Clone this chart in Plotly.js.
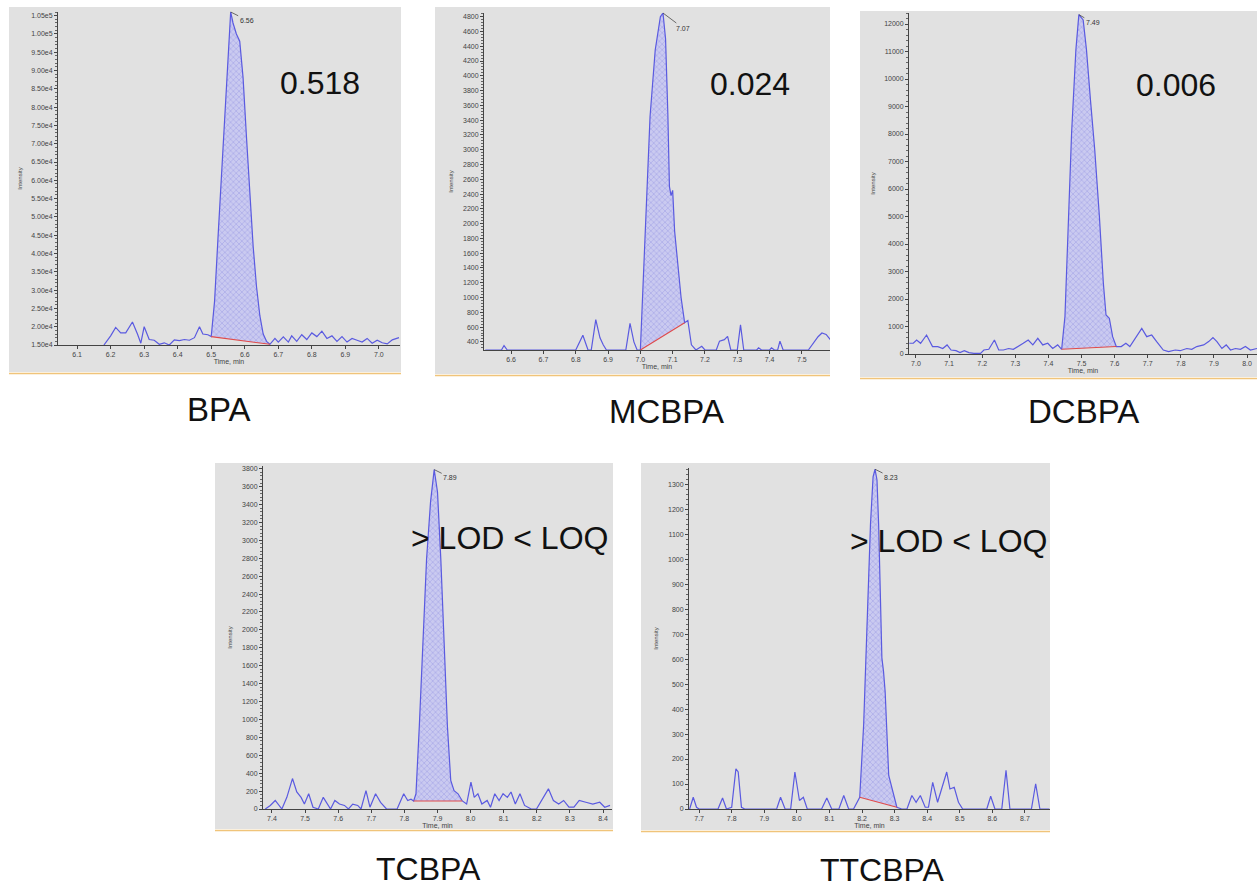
<!DOCTYPE html>
<html><head><meta charset="utf-8">
<script src="https://cdn.plot.ly/plotly-3.0.1.min.js"></script>
<style>html,body{margin:0;padding:0;background:#fff}#chart{width:1258px;height:891px}</style>
</head><body><div id="chart"></div>
<script>
// ---------------- DATA ----------------
const compounds = ['BPA', 'MCBPA', 'DCBPA', 'TCBPA', 'TTCBPA'];
const results = ['0.518', '0.024', '0.006', '> LOD < LOQ', '> LOD < LOQ'];
const retentionLabels = ['6.56', '7.07', '7.49', '7.89', '8.23'];

const bpaTime = [6.18, 6.20, 6.215, 6.23, 6.245, 6.265, 6.28, 6.29, 6.30, 6.315,
 6.33, 6.345, 6.36, 6.375, 6.39, 6.405, 6.42, 6.435, 6.45, 6.465,
 6.475, 6.49, 6.50, 6.51, 6.52, 6.53, 6.54, 6.55, 6.558, 6.565,
 6.575, 6.585, 6.595, 6.605, 6.615, 6.625, 6.635, 6.645, 6.655, 6.665,
 6.675, 6.69, 6.70, 6.715, 6.73, 6.74, 6.755, 6.77, 6.785, 6.80,
 6.815, 6.83, 6.845, 6.86, 6.875, 6.89, 6.905, 6.92, 6.935, 6.95,
 6.965, 6.98, 6.995, 7.01, 7.025, 7.04, 7.06];
const bpaIntensity = [15000, 17500, 19800, 18300, 18300, 21300, 18000, 15500, 20000, 16500,
 16300, 15200, 15600, 15000, 16400, 16200, 16500, 16300, 17000, 20000,
 18000, 17800, 17300, 27000, 44000, 60000, 76000, 95000, 106000, 103000,
 100000, 98000, 88000, 72000, 56000, 42000, 31000, 23000, 18000, 16000,
 15200, 16800, 15800, 17200, 15800, 17500, 16000, 17800, 16500, 18300,
 17300, 18800, 16800, 17500, 16000, 17300, 15800, 16800, 16300, 15800,
 16800, 15500, 16300, 15600, 15300, 16400, 17000];

const mcTime = [6.52, 6.57, 6.578, 6.588, 6.80, 6.822, 6.838, 6.848, 6.862, 6.875,
 6.885, 6.895, 6.955, 6.968, 6.98, 6.99, 7.00, 7.014, 7.03, 7.046,
 7.062, 7.07, 7.078, 7.085, 7.09, 7.095, 7.10, 7.106, 7.116, 7.126,
 7.137, 7.147, 7.158, 7.172, 7.19, 7.20, 7.235, 7.245, 7.26, 7.27,
 7.28, 7.30, 7.31, 7.32, 7.36, 7.366, 7.375, 7.40, 7.406, 7.415,
 7.425, 7.432, 7.442, 7.52, 7.55, 7.562, 7.575, 7.588];
const mcIntensity = [290, 290, 350, 290, 290, 490, 290, 290, 700, 455,
 360, 290, 290, 650, 400, 290, 290, 1885, 3450, 4350,
 4800, 4850, 4500, 3500, 2500, 2380, 2450, 1900, 1450, 1000,
 660, 690, 360, 290, 340, 290, 290, 410, 430, 475,
 290, 290, 630, 290, 290, 320, 290, 290, 320, 290,
 290, 410, 290, 290, 470, 520, 500, 430];

const dcTime = [6.98, 6.992, 7.002, 7.014, 7.032, 7.05, 7.066, 7.081, 7.094, 7.106,
 7.121, 7.133, 7.146, 7.16, 7.175, 7.195, 7.205, 7.22, 7.237, 7.25,
 7.264, 7.28, 7.294, 7.309, 7.324, 7.339, 7.353, 7.368, 7.383, 7.398,
 7.413, 7.428, 7.44, 7.45, 7.46, 7.47, 7.483, 7.492, 7.505, 7.515,
 7.527, 7.54, 7.554, 7.566, 7.574, 7.584, 7.594, 7.605, 7.62, 7.634,
 7.646, 7.665, 7.682, 7.697, 7.712, 7.727, 7.747, 7.763, 7.783, 7.798,
 7.818, 7.833, 7.848, 7.869, 7.884, 7.897, 7.909, 7.924, 7.937, 7.95,
 7.965, 7.98, 7.995, 8.01, 8.03];
const dcIntensity = [390, 390, 510, 390, 690, 270, 270, 200, 330, 145,
 120, 50, 120, 50, 25, 25, 145, 170, 510, 145,
 145, 200, 170, 270, 390, 510, 330, 570, 330, 390,
 200, 330, 170, 1360, 4390, 8030, 11060, 12340, 12150, 11060,
 9240, 7420, 5000, 2570, 1420, 1300, 630, 270, 270, 390,
 270, 630, 930, 630, 690, 450, 145, 85, 145, 120,
 200, 170, 270, 330, 450, 600, 450, 200, 330, 145,
 200, 170, 270, 145, 200];

const tcTime = [7.38, 7.395, 7.41, 7.43, 7.445, 7.462, 7.475, 7.488, 7.498, 7.511,
 7.524, 7.54, 7.555, 7.567, 7.577, 7.59, 7.604, 7.619, 7.631, 7.644,
 7.659, 7.669, 7.684, 7.696, 7.713, 7.728, 7.746, 7.778, 7.798, 7.81,
 7.82, 7.828, 7.835, 7.845, 7.855, 7.867, 7.879, 7.89, 7.9, 7.91,
 7.92, 7.93, 7.94, 7.95, 7.962, 7.975, 7.988, 8.001, 8.011, 8.022,
 8.034, 8.05, 8.06, 8.073, 8.086, 8.098, 8.111, 8.122, 8.135, 8.149,
 8.163, 8.183, 8.199, 8.214, 8.235, 8.25, 8.266, 8.281, 8.297, 8.312,
 8.328, 8.348, 8.369, 8.39, 8.405, 8.421];
const tcIntensity = [0, 40, 95, 0, 130, 340, 190, 130, 55, 170,
 20, 0, 130, 55, 0, 95, 55, 40, 0, 55,
 40, 0, 205, 20, 170, 75, 0, 0, 170, 95,
 110, 90, 170, 920, 1860, 2790, 3430, 3790, 3540, 2790,
 1860, 920, 320, 205, 170, 90, 55, 300, 130, 170,
 55, 95, 20, 170, 95, 170, 130, 190, 55, 170,
 40, 0, 0, 95, 225, 95, 55, 95, 20, 20,
 95, 75, 55, 75, 20, 40];

const ttTime = [7.671, 7.682, 7.692, 7.70, 7.758, 7.772, 7.784, 7.80, 7.813, 7.82,
 7.83, 7.84, 7.938, 7.95, 7.964, 7.981, 7.994, 8.008, 8.02, 8.032,
 8.076, 8.092, 8.107, 8.129, 8.144, 8.159, 8.174, 8.193, 8.205, 8.215,
 8.226, 8.234, 8.24, 8.246, 8.251, 8.256, 8.261, 8.266, 8.271, 8.282,
 8.292, 8.307, 8.322, 8.338, 8.353, 8.366, 8.379, 8.394, 8.404, 8.417,
 8.432, 8.445, 8.46, 8.47, 8.483, 8.496, 8.509, 8.583, 8.595, 8.608,
 8.629, 8.642, 8.654, 8.72, 8.733, 8.746, 8.775];
const ttIntensity = [0, 47, 7, 0, 0, 44, 0, 7, 161, 148,
 7, 0, 0, 47, 0, 0, 148, 34, 47, 0,
 0, 44, 0, 0, 54, 0, 0, 47, 336, 740,
 1140, 1330, 1360, 1317, 1140, 874, 605, 551, 470, 134,
 80, 7, 0, 0, 54, 27, 54, 7, 7, 107,
 27, 87, 148, 80, 87, 27, 0, 0, 51, 0,
 0, 155, 0, 0, 101, 0, 0];

// integration windows (start, end) in minutes
const integrationStart = [6.50, 7.00, 7.44, 7.828, 8.193];
const integrationEnd   = [6.675, 7.137, 7.605, 7.975, 8.307];

// axis ranges / ticks
const xRanges = [[6.043, 7.063], [6.516, 7.587], [6.979, 8.03], [7.373, 8.427], [7.669, 8.777]];
const yRanges = [[15000, 106000], [290, 4850], [0, 12400], [0, 3830], [0, 1365]];
const bpaTickVals = [15000, 20000, 25000, 30000, 35000, 40000, 45000, 50000, 55000, 60000, 65000, 70000, 75000, 80000, 85000, 90000, 95000, 100000, 105000];
const bpaTickText = ['1.50e4', '2.00e4', '2.50e4', '3.00e4', '3.50e4', '4.00e4', '4.50e4', '5.00e4', '5.50e4', '6.00e4', '6.50e4', '7.00e4', '7.50e4', '8.00e4', '8.50e4', '9.00e4', '9.50e4', '1.00e5', '1.05e5'];
const yDticks = [5000, 200, 1000, 200, 100];

// ---------------- LAYOUT GEOMETRY (pixels) ----------------
const W = 1258, H = 891;
const times = [bpaTime, mcTime, dcTime, tcTime, ttTime];
const intens = [bpaIntensity, mcIntensity, dcIntensity, tcIntensity, ttIntensity];
const plotBox = [ // left, right, top, bottom of axes area
  [58, 400, 12, 345], [484, 830, 13, 350], [909, 1257, 13, 354],
  [263, 612, 466, 809], [689, 1050, 468, 809]];
const greyBox = [
  [9, 401, 7, 372], [435, 830, 7, 374], [860, 1257, 11, 377],
  [215, 613, 463, 829], [641, 1050, 463, 830]];
const namePos = [[219, 409], [667, 411], [1083, 411], [428, 869], [882, 870]];
const nameSize = [33, 33, 33, 32, 32];
const resultPos = [[320, 83], [750, 84], [1176, 85], [509, 538], [948, 541]];
const peakLabelOffset = [[16, 8], [20, 15], [14, 8], [16, 8], [16, 8]];

const FONT = 'Liberation Sans, Arial, sans-serif';
const px = v => v / W;
const py = v => 1 - v / H;

const traces = [];
const layout = {
  width: W, height: H,
  margin: {l: 0, r: 0, t: 0, b: 0},
  paper_bgcolor: '#ffffff',
  plot_bgcolor: 'rgba(0,0,0,0)',
  showlegend: false,
  font: {family: FONT, color: '#333'},
  shapes: [], annotations: []
};

for (let i = 0; i < 5; i++) {
  const s = i === 0 ? '' : String(i + 1);
  const xa = 'x' + s, ya = 'y' + s;
  const t = times[i], v = intens[i];
  const i0 = t.indexOf(integrationStart[i]);
  const i1 = t.indexOf(integrationEnd[i]);

  // shaded integrated area (closed polygon: peak + straight baseline)
  traces.push({
    x: t.slice(i0, i1 + 1), y: v.slice(i0, i1 + 1),
    xaxis: xa, yaxis: ya, type: 'scatter', mode: 'lines',
    fill: 'toself', fillcolor: 'rgba(175,175,235,0.9)',
    fillpattern: {shape: 'x', size: 4, solidity: 0.2, fgcolor: '#9494e2', bgcolor: '#cacaf0'},
    line: {width: 0, color: 'rgba(0,0,0,0)'}, hoverinfo: 'skip'
  });
  // chromatogram
  traces.push({
    x: t, y: v, xaxis: xa, yaxis: ya, type: 'scatter', mode: 'lines',
    line: {color: '#5a5ae0', width: 1.2}, cliponaxis: true
  });
  // baseline
  traces.push({
    x: [t[i0], t[i1]], y: [v[i0], v[i1]], xaxis: xa, yaxis: ya,
    type: 'scatter', mode: 'lines', line: {color: '#e04a4a', width: 1.1}
  });

  const b = plotBox[i];
  layout['xaxis' + s] = {
    domain: [px(b[0]), px(b[1])], anchor: ya, range: xRanges[i],
    dtick: 0.1, tick0: 0, tickformat: '.1f', ticks: 'outside', ticklen: 3, tickwidth: 1,
    tickcolor: '#444', showline: true, linecolor: '#444', linewidth: 1,
    showgrid: false, zeroline: false, automargin: false,
    tickfont: {size: 7, color: '#444', family: FONT},
    title: {text: 'Time, min', font: {size: 7, color: '#444', family: FONT}, standoff: 1}
  };
  const yax = {
    domain: [py(b[3]), py(b[2])], anchor: xa, range: yRanges[i],
    ticks: 'outside', ticklen: 3, tickwidth: 1, tickcolor: '#444',
    showline: true, linecolor: '#444', linewidth: 1,
    showgrid: false, zeroline: false, automargin: false,
    tickfont: {size: 7, color: '#444', family: FONT},
    minor: {ticks: 'outside', ticklen: 2, tickcolor: '#666', dtick: yDticks[i] / 5},
    title: {text: 'Intensity', font: {size: 6, color: '#444', family: FONT}, standoff: 8}
  };
  if (i === 0) { yax.tickvals = bpaTickVals; yax.ticktext = bpaTickText; yax.tickmode = 'array'; yax.minor.dtick = 1000; }
  else { yax.dtick = yDticks[i]; yax.tick0 = 0; yax.tickformat = 'd'; }
  layout['yaxis' + s] = yax;

  const g = greyBox[i];
  layout.shapes.push({type: 'rect', xref: 'paper', yref: 'paper', layer: 'below',
    x0: px(g[0]), x1: px(g[1]), y0: py(g[3]), y1: py(g[2]),
    fillcolor: '#e1e1e1', line: {width: 0}});
  layout.shapes.push({type: 'line', xref: 'paper', yref: 'paper', layer: 'below',
    x0: px(g[0]), x1: px(g[1]), y0: py(g[3] + 1.5), y1: py(g[3] + 1.5),
    line: {color: '#f0c47a', width: 1.5}});

  layout.annotations.push({xref: 'paper', yref: 'paper', x: px(namePos[i][0]), y: py(namePos[i][1]),
    text: compounds[i], showarrow: false, xanchor: 'center', yanchor: 'middle',
    font: {size: nameSize[i], color: '#111', family: FONT}});
  layout.annotations.push({xref: 'paper', yref: 'paper', x: px(resultPos[i][0]), y: py(resultPos[i][1]),
    text: results[i], showarrow: false, xanchor: 'center', yanchor: 'middle',
    font: {size: 32, color: '#111', family: FONT}});

  // retention time label at apex
  let im = 0; for (let k = 1; k < v.length; k++) if (v[k] > v[im]) im = k;
  layout.annotations.push({xref: xa, yref: ya, x: t[im], y: v[im], text: retentionLabels[i],
    showarrow: true, arrowhead: 0, arrowwidth: 0.7, arrowcolor: '#333',
    ax: peakLabelOffset[i][0], ay: peakLabelOffset[i][1], standoff: 0, startstandoff: 0,
    font: {size: 7, color: '#333', family: FONT}});
}

Plotly.newPlot('chart', traces, layout, {displayModeBar: false, staticPlot: true});
</script>
</body></html>
